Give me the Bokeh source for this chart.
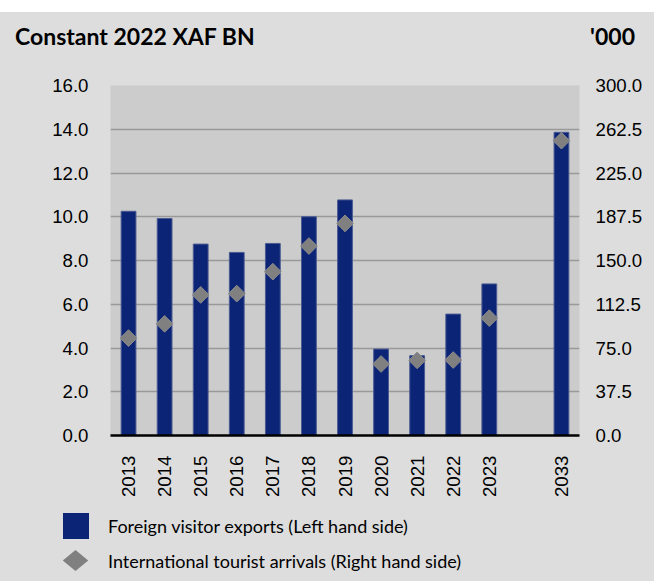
from bokeh.plotting import figure
from bokeh.models import (ColumnDataSource, FactorRange, Range1d, LinearAxis,
                          FixedTicker, NumeralTickFormatter, Spacer, Div)
from bokeh.layouts import column
from bokeh.embed import file_html
from bokeh.resources import INLINE
import math

# ---- data ----
years = ["2013", "2014", "2015", "2016", "2017", "2018", "2019",
         "2020", "2021", "2022", "2023", "2033"]
exports_bn = [10.25, 9.92, 8.75, 8.37, 8.78, 10.0, 10.77,
              3.95, 3.65, 5.55, 6.93, 13.86]
arrivals_k = [83.5, 95.7, 120.5, 121.6, 140.4, 162.4, 181.8,
              61.3, 64.4, 64.7, 100.6, 252.7]
left_ticks = [0, 2, 4, 6, 8, 10, 12, 14, 16]
right_ticks = [0, 37.5, 75, 112.5, 150, 187.5, 225, 262.5, 300]
title_left = "Constant 2022 XAF BN"
title_right = "'000"
legend_labels = ["Foreign visitor exports (Left hand side)",
                 "International tourist arrivals (Right hand side)"]

x_factors = years[:11] + [" "] + years[11:]

BG = "#dddddd"
PLOT_BG = "#cccccc"
NAVY = "#0c2476"
GREY = "#808080"
TICK_FONT = "Liberation Sans"
TEXT_FONT = "Lato"
W = 654

# ---- title strip ----
H_TITLE = 48
title_html = (
    f'<div style="position:relative;width:{W}px;height:{H_TITLE}px;background:{BG};'
    f'font-family:{TEXT_FONT};font-weight:bold;font-size:23px;color:#000;">'
    f'<span style="position:absolute;left:15px;top:11px;line-height:26px;white-space:nowrap;">{title_left}</span>'
    f'<span style="position:absolute;right:19px;top:11px;line-height:26px;white-space:nowrap;">{title_right}</span>'
    '</div>')
title_div = Div(text=title_html, width=W, height=H_TITLE,
                styles={"margin": "0", "padding": "0", "background-color": BG})

# ---- main chart ----
src = ColumnDataSource(dict(year=years, exp=exports_bn, arr=arrivals_k))

H_MAIN = 440
p = figure(width=W, height=H_MAIN, x_range=FactorRange(*x_factors, range_padding=0),
           y_range=Range1d(0, 16), output_backend="svg", toolbar_location=None,
           min_border_left=110, min_border_right=75, min_border_top=25,
           min_border_bottom=64)
p.background_fill_color = PLOT_BG
p.border_fill_color = BG
p.outline_line_color = None
p.extra_y_ranges = {"right": Range1d(0, 300)}
p.styles = {"background-color": BG}

p.vbar(x="year", top="exp", width=0.41, source=src, fill_color=NAVY,
       line_color="#4a5a92", line_width=1)
p.scatter(x="year", y="arr", source=src, y_range_name="right", marker="square",
          size=11.8, angle=math.pi / 4, fill_color=GREY, line_color="#8c8c8c",
          line_width=1)

# left axis
ya = p.yaxis[0]
ya.ticker = FixedTicker(ticks=left_ticks)
ya.formatter = NumeralTickFormatter(format="0.0")
ya.axis_line_color = None
ya.major_tick_line_color = None
ya.minor_tick_line_color = None
ya.major_label_standoff = 16
ya.major_label_text_font = TICK_FONT
ya.major_label_text_font_size = "14pt"
ya.major_label_text_color = "#000000"

# right axis
ra = LinearAxis(y_range_name="right", ticker=FixedTicker(ticks=right_ticks),
                formatter=NumeralTickFormatter(format="0.0"))
ra.axis_line_color = None
ra.major_tick_line_color = None
ra.minor_tick_line_color = None
ra.major_label_standoff = 10
ra.major_label_text_font = TICK_FONT
ra.major_label_text_font_size = "14pt"
ra.major_label_text_color = "#000000"
p.add_layout(ra, "right")

# x axis
xa = p.xaxis[0]
xa.axis_line_color = "#000000"
xa.axis_line_width = 2.5
xa.major_tick_line_color = None
xa.minor_tick_line_color = None
xa.major_label_orientation = math.pi / 2
xa.major_label_standoff = 14
xa.major_label_text_font = TICK_FONT
xa.major_label_text_font_size = "14pt"
xa.major_label_text_color = "#000000"

p.xgrid.grid_line_color = None
p.ygrid.ticker = FixedTicker(ticks=left_ticks)
p.ygrid.grid_line_color = "#999999"
p.ygrid.grid_line_width = 1.5

# ---- legend strip ----
H_LEG = 81
legend_html = (
    f'<div style="position:relative;width:{W}px;height:{H_LEG}px;background:{BG};'
    f'font-family:{TEXT_FONT};font-size:18px;color:#000;">'
    f'<div style="position:absolute;left:63px;top:13px;width:26px;height:26px;background:{NAVY};"></div>'
    f'<span style="position:absolute;left:108px;top:14px;line-height:24px;white-space:nowrap;">{legend_labels[0]}</span>'
    f'<div style="position:absolute;left:68px;top:53px;width:15px;height:15px;background:{GREY};'
    'transform:scale(1.2,1.0) rotate(45deg);"></div>'
    f'<span style="position:absolute;left:108px;top:48.5px;line-height:24px;white-space:nowrap;">{legend_labels[1]}</span>'
    '</div>')
legend_div = Div(text=legend_html, width=W, height=H_LEG,
                 styles={"margin": "0", "padding": "0", "background-color": BG})

spacer = Spacer(width=W, height=12, styles={"background-color": "#ffffff"})
layout = column(spacer, title_div, p, legend_div, spacing=0,
                styles={"background-color": BG})
open("out.html", "w").write(file_html(layout, INLINE))
